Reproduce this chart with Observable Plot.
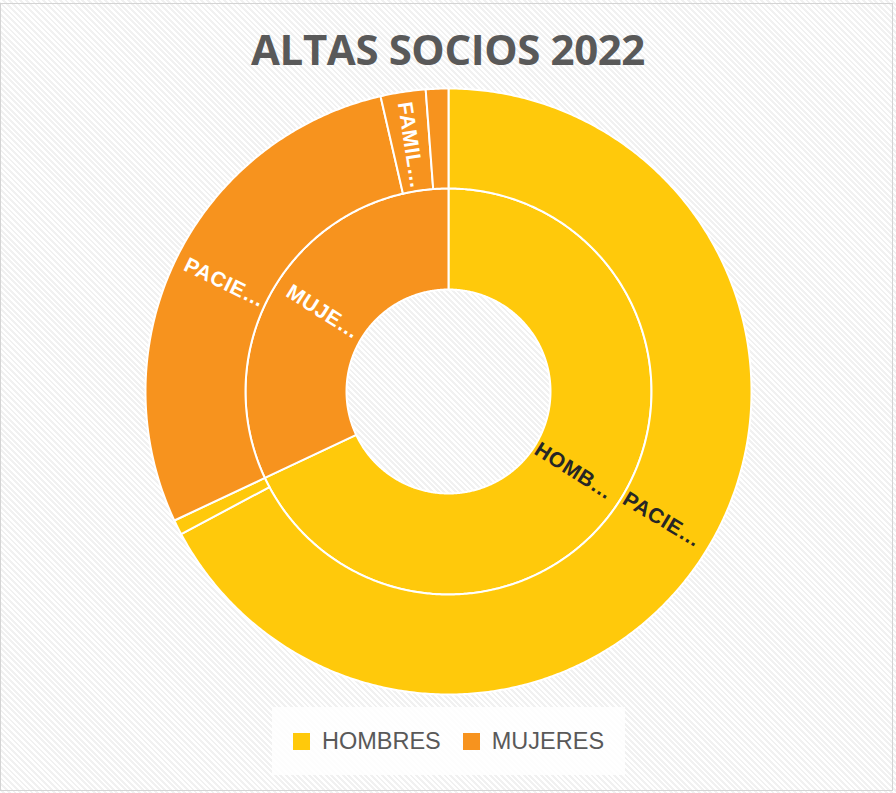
<!DOCTYPE html>
<html>
<head>
<meta charset="utf-8">
<script src="https://cdn.jsdelivr.net/npm/d3@7"></script>
<script src="https://cdn.jsdelivr.net/npm/@observablehq/plot@0.6"></script>
<style>
  html, body { margin: 0; padding: 0; background: #fff; }
  #wrap { position: relative; width: 896px; height: 793px; overflow: hidden;
    background: repeating-linear-gradient(45deg, #ffffff 0px, #ffffff 2px, #f1f1f1 2px, #f1f1f1 4px); }
  #frame { position: absolute; left: 0; top: 3px; width: 893px; height: 788px; border: 1px solid #d4d4d4; box-sizing: border-box; }
  #title { position: absolute; left: 0; width: 896px; top: 20px; text-align: center;
    font-family: "Open Sans", sans-serif; font-weight: 700; font-size: 42px; color: #595959; letter-spacing: -0.4px; }
  #chart { position: absolute; left: 0; top: 0; }
  #legend { position: absolute; left: 272px; top: 707px; width: 353px; height: 68px; background: rgba(255,255,255,0.85);
    display: flex; align-items: center; justify-content: center; gap: 22px;
    font-family: "Liberation Sans", Arial, sans-serif; font-size: 23.5px; color: #595959; }
  .item { display: flex; align-items: center; gap: 12px; }
  .sw { width: 17px; height: 17px; display: inline-block; }
  #chart text { letter-spacing: 0.6px; }
</style>
</head>
<body>
<div id="wrap">
  <div id="frame"></div>
  <div id="chart"></div>
  <div id="title">ALTAS SOCIOS 2022</div>
  <div id="legend"></div>
</div>
<script>
// ---- data ----
const groups = ["HOMBRES", "MUJERES"];
const groupColors = ["#FFC90B", "#F7931E"];
const groupLabels = ["HOMB…", "MUJE…"];
const groupLabelColors = ["#262626", "#ffffff"];
const outerGroup = ["HOMBRES", "HOMBRES", "MUJERES", "MUJERES", "MUJERES"];
const outerNames = ["PACIENTES", "FAMILIARES", "PACIENTES", "FAMILIARES", "OTROS"];
const outerValues = [168, 2, 71, 6, 3];
const outerLabels = ["PACIE…", "", "PACIE…", "FAMIL…", ""];

// ---- geometry ----
const R0 = 102, R1 = 203, R2 = 303;
const total = d3.sum(outerValues);
const groupValues = groups.map(g => d3.sum(outerValues.filter((v, i) => outerGroup[i] === g)));

function arcPoly(id, a0, a1, r0, r1, color) {
  const pts = [];
  const n = Math.max(2, Math.ceil((a1 - a0) / 0.5));
  for (let k = 0; k <= n; k++) {
    const a = (a0 + (a1 - a0) * k / n) * Math.PI / 180;
    pts.push({id, color, x: r1 * Math.sin(a), y: r1 * Math.cos(a)});
  }
  for (let k = n; k >= 0; k--) {
    const a = (a0 + (a1 - a0) * k / n) * Math.PI / 180;
    pts.push({id, color, x: r0 * Math.sin(a), y: r0 * Math.cos(a)});
  }
  pts.push({...pts[0]});
  return pts;
}
function labelAt(text, a0, a1, r, color) {
  const m = (a0 + a1) / 2;
  const a = m * Math.PI / 180;
  return {text, color, x: r * Math.sin(a), y: r * Math.cos(a), rotate: m < 180 ? m - 90 : m - 270};
}

const polys = [], labels = [];
let acc = 0;
groups.forEach((g, gi) => {
  const a0 = acc / total * 360, a1 = (acc + groupValues[gi]) / total * 360;
  polys.push(...arcPoly("in" + gi, a0, a1, R0, R1, groupColors[gi]));
  labels.push(labelAt(groupLabels[gi], a0, a1, (R0 + R1) / 2 - 4, groupLabelColors[gi]));
  acc += groupValues[gi];
});
acc = 0;
outerValues.forEach((v, i) => {
  const gi = groups.indexOf(outerGroup[i]);
  const a0 = acc / total * 360, a1 = (acc + v) / total * 360;
  polys.push(...arcPoly("out" + i, a0, a1, R1, R2, groupColors[gi]));
  if (outerLabels[i]) labels.push(labelAt(outerLabels[i], a0, a1, (R1 + R2) / 2 - 4, groupLabelColors[gi]));
  acc += v;
});

const chart = Plot.plot({
  width: 896, height: 793, margin: 0,
  x: {domain: [-448, 448], axis: null},
  y: {domain: [-402, 391], axis: null},
  color: {type: "identity"},
  style: {background: "transparent", overflow: "visible"},
  marks: [
    Plot.line(polys, {x: "x", y: "y", z: "id", fill: "color", stroke: "#ffffff", strokeWidth: 2, curve: "linear", strokeLinejoin: "round"}),
    Plot.text(labels, {x: "x", y: "y", text: "text", rotate: "rotate", fill: "color",
      fontSize: 21, fontWeight: "bold", fontFamily: "Liberation Sans, Arial, sans-serif", textAnchor: "middle"})
  ]
});
document.getElementById("chart").appendChild(chart);

// legend
const lg = document.getElementById("legend");
groups.forEach((g, i) => {
  const it = document.createElement("div");
  it.className = "item";
  it.innerHTML = `<span class="sw" style="background:${groupColors[i]}"></span><span>${g}</span>`;
  lg.appendChild(it);
});
</script>
</body>
</html>
